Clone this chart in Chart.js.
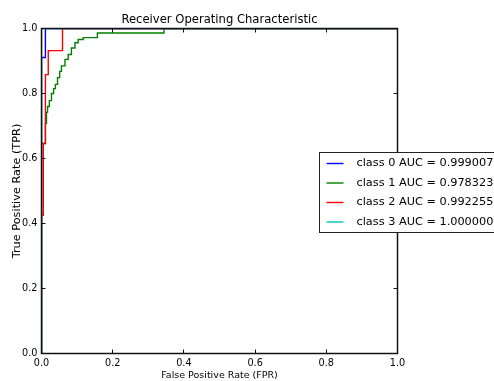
<!DOCTYPE html>
<html>
<head>
<meta charset="utf-8">
<title>Receiver Operating Characteristic</title>
<script src="https://cdn.jsdelivr.net/npm/chart.js@4.4.1/dist/chart.umd.min.js"></script>
<style>
  html, body { margin: 0; padding: 0; background: #fff; }
  #wrap { width: 494px; height: 381px; }
</style>
</head>
<body>
<div id="wrap"><canvas id="rocChart"></canvas></div>
<script>
// roc points for each class: false positive rate / true positive rate
const fpr0 = [0, 0, 0.011, 0.011, 1];
const tpr0 = [0, 0.911, 0.911, 1, 1];

const fpr1 = [0, 0, 0.011, 0.011, 0.014, 0.014, 0.017, 0.017, 0.022, 0.022,
  0.028, 0.028, 0.034, 0.034, 0.039, 0.039, 0.045, 0.045, 0.051, 0.051,
  0.056, 0.056, 0.066, 0.066, 0.075, 0.075, 0.084, 0.084, 0.094, 0.094,
  0.103, 0.103, 0.117, 0.117, 0.157, 0.157, 0.344, 0.344, 1];
const tpr1 = [0, 0.646, 0.646, 0.708, 0.708, 0.742, 0.742, 0.76, 0.76, 0.778,
  0.778, 0.80, 0.80, 0.815, 0.815, 0.828, 0.828, 0.849, 0.849, 0.868,
  0.868, 0.885, 0.885, 0.905, 0.905, 0.92, 0.92, 0.94, 0.94, 0.956,
  0.956, 0.966, 0.966, 0.972, 0.972, 0.986, 0.986, 1, 1];

const fpr2 = [0, 0, 0.005, 0.005, 0.011, 0.011, 0.019, 0.019, 0.059, 0.059, 1];
const tpr2 = [0, 0.425, 0.425, 0.646, 0.646, 0.858, 0.858, 0.932, 0.932, 1, 1];

const fpr3 = [0, 0, 1];
const tpr3 = [0, 1, 1];

const classNames = ['class 0', 'class 1', 'class 2', 'class 3'];
const aucValues = [0.999007, 0.978323, 0.992255, 1.000000];
const lineColors = ['#0000ff', '#008000', '#ff0000', '#00bfbf'];

const xTickValues = [0, 0.2, 0.4, 0.6, 0.8, 1.0];
const yTickValues = [0, 0.2, 0.4, 0.6, 0.8, 1.0];

const chartTitle = 'Receiver Operating Characteristic';
const FONT = "'DejaVu Sans', sans-serif";

function toPoints(fpr, tpr) {
  return fpr.map((f, i) => ({ x: f, y: tpr[i] }));
}

const curves = [[fpr0, tpr0], [fpr1, tpr1], [fpr2, tpr2], [fpr3, tpr3]];

// box around the plot with small inward ticks on every side
const frameTicks = {
  id: 'frameTicks',
  afterDatasetsDraw(chart) {
    const { ctx, chartArea: a, scales: { x, y } } = chart;
    const len = 4;
    ctx.save();
    ctx.strokeStyle = '#111';
    ctx.lineWidth = 1;
    ctx.beginPath();
    xTickValues.forEach(v => {
      const px = Math.round(x.getPixelForValue(v) - 0.5) + 0.5;
      ctx.moveTo(px, a.bottom); ctx.lineTo(px, a.bottom - len);
      ctx.moveTo(px, a.top); ctx.lineTo(px, a.top + len);
    });
    yTickValues.forEach(v => {
      const py = Math.round(y.getPixelForValue(v) - 0.5) + 0.5;
      ctx.moveTo(a.left, py); ctx.lineTo(a.left + len, py);
      ctx.moveTo(a.right, py); ctx.lineTo(a.right - len, py);
    });
    ctx.stroke();
    // the spines sit on top of the curves that run along x=0 and y=1
    ctx.lineWidth = 1.5;
    ctx.strokeRect(a.left, a.top, a.right - a.left, a.bottom - a.top);
    ctx.restore();
  }
};

// title centred over the plot, and the legend box across its right edge
const titleAndLegend = {
  id: 'titleAndLegend',
  afterDraw(chart) {
    const { ctx, chartArea: a } = chart;
    ctx.save();
    ctx.fillStyle = '#000';
    ctx.font = '11.6px ' + FONT;
    ctx.textAlign = 'center';
    ctx.textBaseline = 'alphabetic';
    ctx.fillText(chartTitle, (a.left + a.right) / 2, a.top - 6);

    const left = a.right - 78;
    const top = a.top + 124;
    const rowH = 19.5;
    ctx.fillStyle = '#fff';
    ctx.strokeStyle = '#222';
    ctx.lineWidth = 1;
    ctx.fillRect(left, top, 200, 80);
    ctx.strokeRect(left, top, 200, 80);
    ctx.font = '11.3px ' + FONT;
    ctx.textAlign = 'left';
    ctx.textBaseline = 'middle';
    chart.data.datasets.forEach((ds, i) => {
      const ry = top + 11 + i * rowH;
      ctx.strokeStyle = ds.borderColor;
      ctx.lineWidth = 1.4;
      ctx.beginPath();
      ctx.moveTo(left + 7, ry);
      ctx.lineTo(left + 24, ry);
      ctx.stroke();
      ctx.fillStyle = '#000';
      ctx.fillText(ds.label, left + 37, ry);
    });
    ctx.restore();
  }
};

Chart.defaults.color = '#000';
Chart.defaults.font.family = FONT;

new Chart(document.getElementById('rocChart'), {
  type: 'scatter',
  data: {
    datasets: curves.map((c, i) => ({
      label: classNames[i] + ' AUC = ' + aucValues[i].toFixed(6),
      data: toPoints(c[0], c[1]),
      showLine: true,
      borderColor: lineColors[i],
      borderWidth: 1.4,
      pointRadius: 0,
      fill: false,
      tension: 0,
      clip: 0,
      order: 3 - i
    }))
  },
  options: {
    responsive: true,
    maintainAspectRatio: false,
    animation: false,
    layout: { padding: { top: 28.5, right: 96.5 } },
    plugins: {
      legend: { display: false },
      tooltip: { enabled: false },
      title: { display: false }
    },
    scales: {
      x: {
        type: 'linear',
        min: 0,
        max: 1,
        afterBuildTicks: s => { s.ticks = xTickValues.map(v => ({ value: v })); },
        afterFit: s => { s.height = 27.5; },
        grid: { display: false, drawTicks: false },
        border: { display: false },
        ticks: {
          font: { size: 9.7 },
          padding: 4,
          maxRotation: 0,
          autoSkip: false,
          callback: v => v.toFixed(1)
        },
        title: {
          display: true,
          text: 'False Positive Rate (FPR)',
          font: { size: 9.5 },
          padding: { top: 0, bottom: 0 }
        }
      },
      y: {
        type: 'linear',
        min: 0,
        max: 1,
        afterBuildTicks: s => { s.ticks = yTickValues.map(v => ({ value: v })); },
        afterFit: s => { s.width = 41.5; },
        grid: { display: false, drawTicks: false },
        border: { display: false },
        ticks: {
          font: { size: 9.7 },
          padding: 4,
          autoSkip: false,
          callback: v => v.toFixed(1)
        },
        title: {
          display: true,
          text: 'True Positive Rate (TPR)',
          font: { size: 11.3 },
          padding: { top: 10, bottom: 0 }
        }
      }
    }
  },
  plugins: [frameTicks, titleAndLegend]
});
</script>
</body>
</html>
